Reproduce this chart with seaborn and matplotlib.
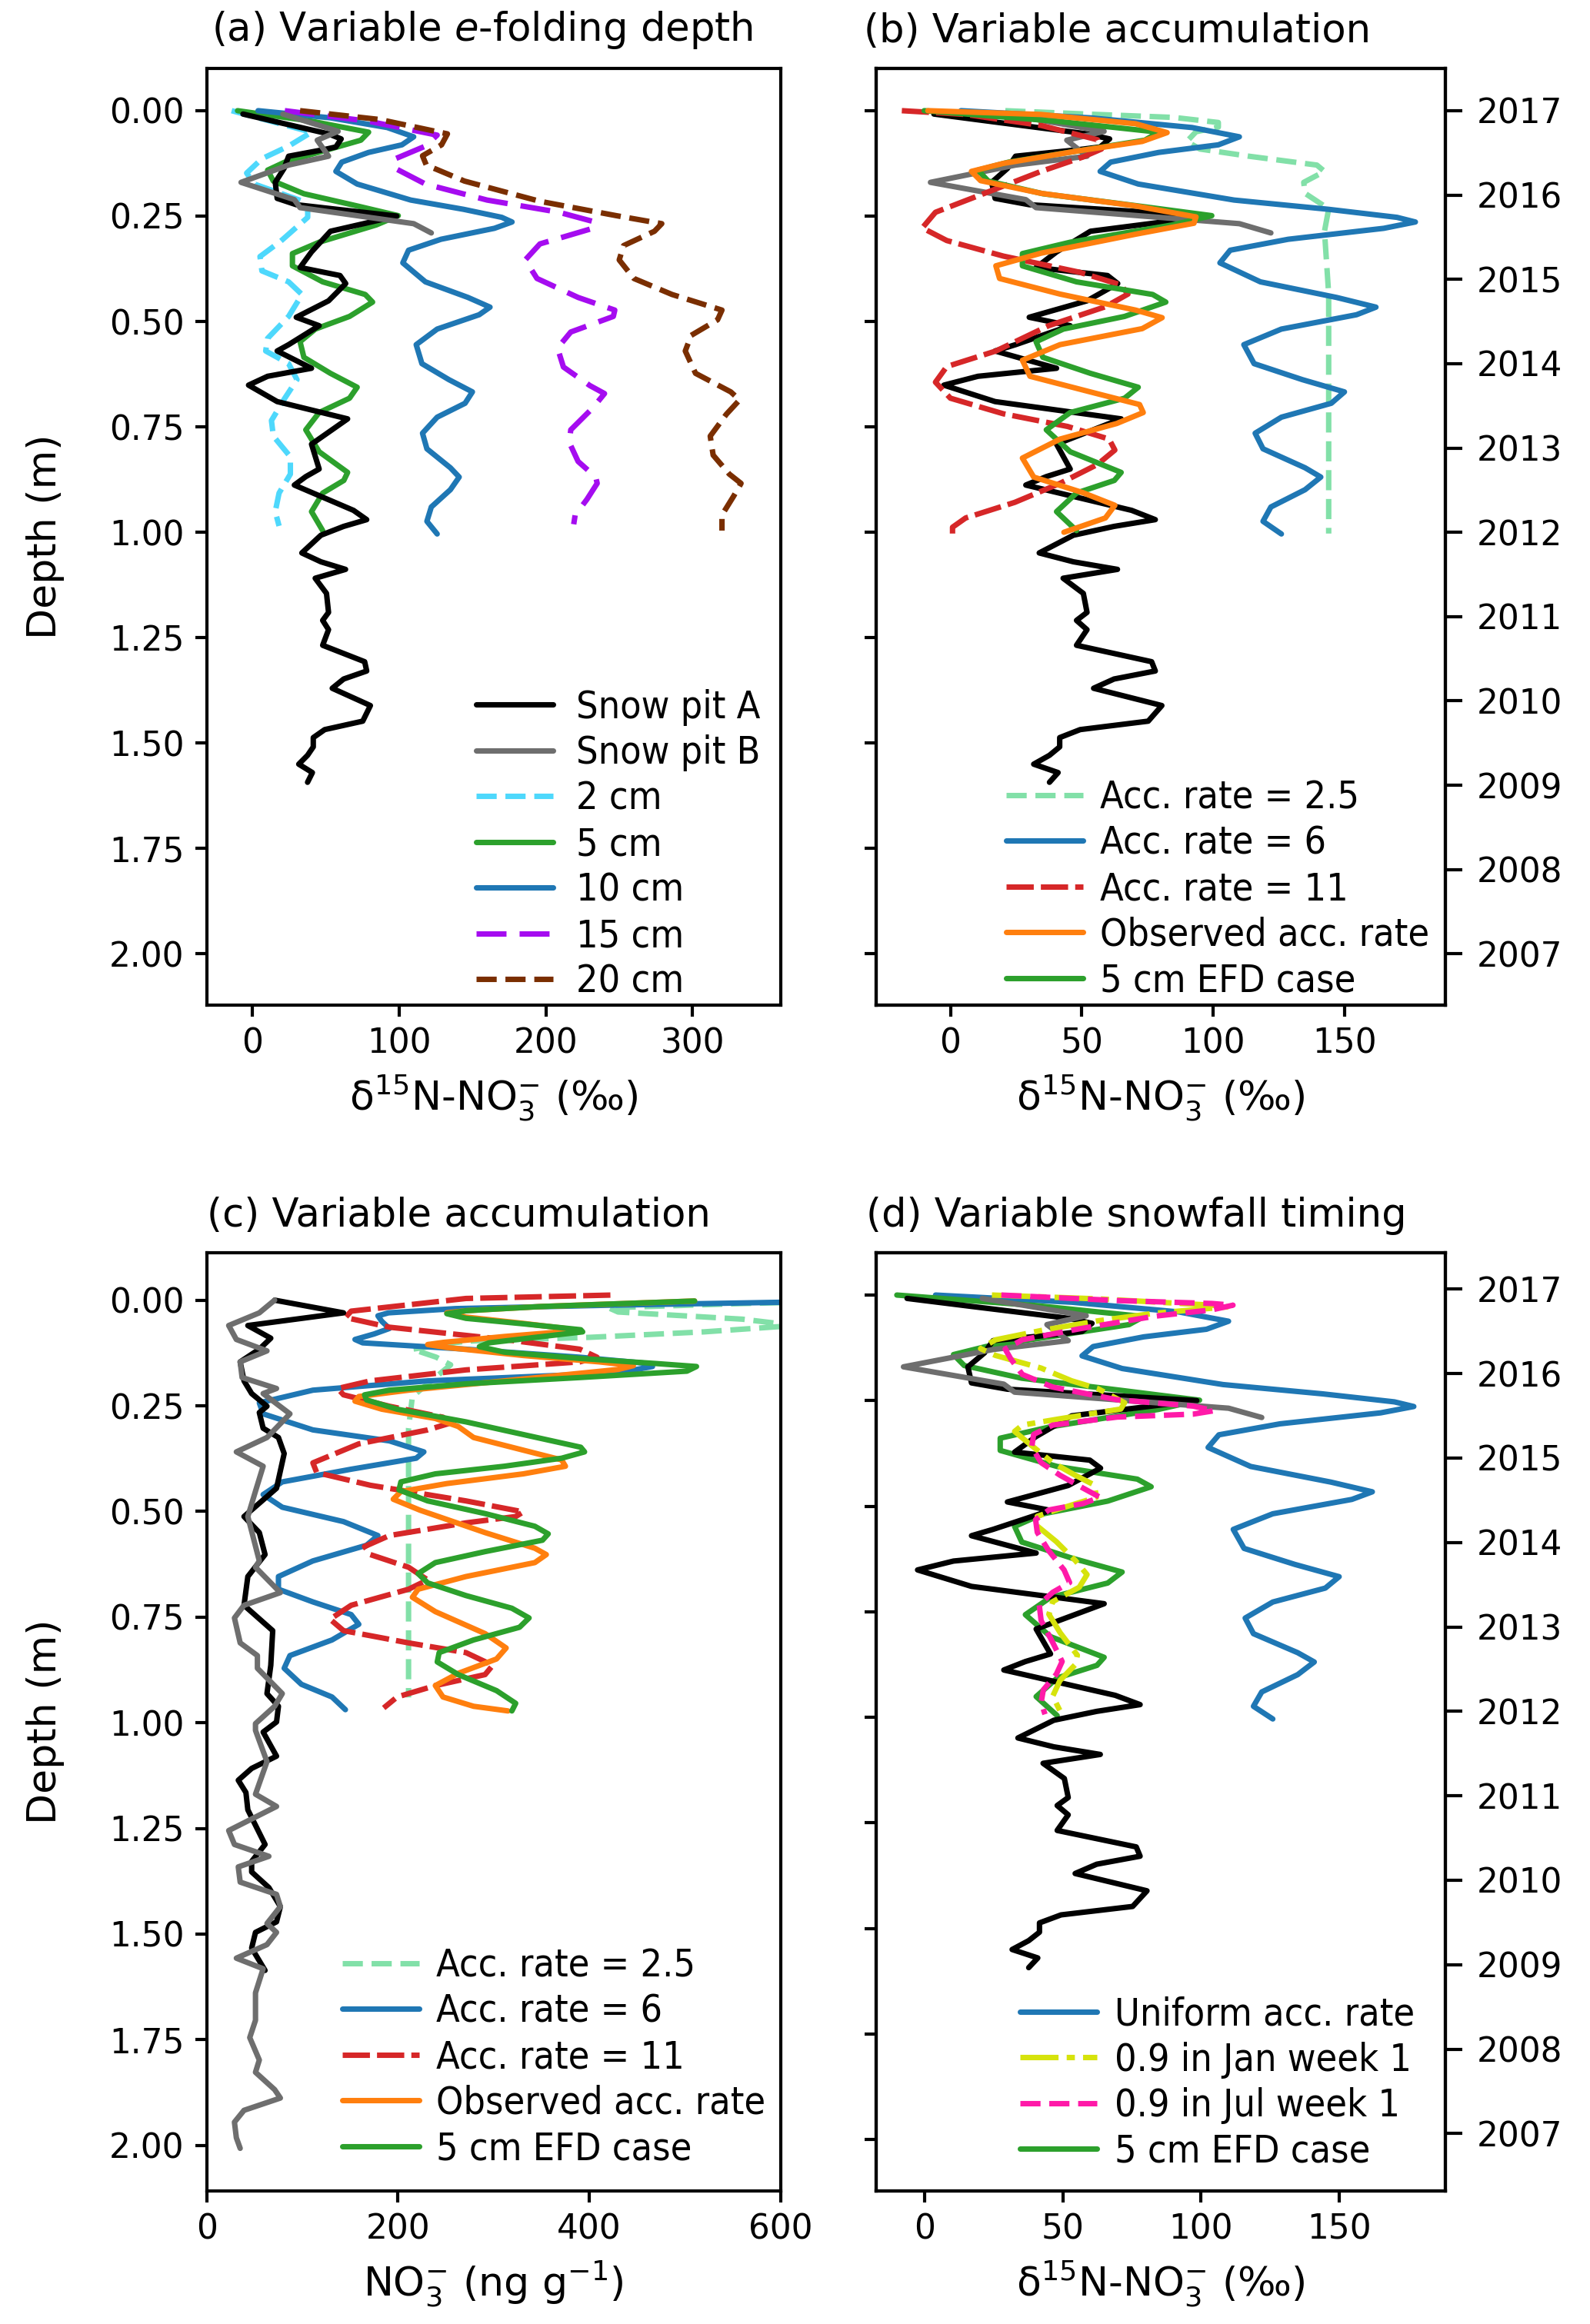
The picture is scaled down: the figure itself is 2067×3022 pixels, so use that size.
import matplotlib
matplotlib.use('Agg')
import matplotlib.pyplot as plt
import seaborn as sns

# Values as (depth m, value) pairs
# --- snow pit observations, d15N (permil)
PIT_A = [(0.008, -6.3), (0.028, 18.3), (0.055, 52), (0.067, 60.6), (0.086, 57), (0.092, 49.4),
         (0.108, 24.8), (0.137, 21.7), (0.170, 15.7), (0.208, 17), (0.223, 30), (0.250, 98.5),
         (0.286, 53.3), (0.335, 40.4), (0.372, 32.6), (0.391, 59.8), (0.410, 63.7), (0.451, 52),
         (0.490, 30), (0.510, 45.6), (0.555, 24.8), (0.570, 17), (0.611, 40.4), (0.630, 10.5),
         (0.651, -2.5), (0.690, 17), (0.731, 65), (0.791, 40.4), (0.850, 45.6), (0.868, 36.5),
         (0.888, 28.7), (0.948, 69), (0.970, 78), (0.986, 62.3), (1.007, 46.8), (1.049, 33.8),
         (1.070, 46.8), (1.088, 63.6), (1.109, 42.9), (1.145, 50.6), (1.190, 52), (1.209, 48),
         (1.231, 52), (1.268, 48), (1.307, 76.6), (1.329, 78), (1.348, 62.3), (1.370, 54.5),
         (1.407, 78), (1.411, 80.5), (1.448, 75.3), (1.468, 49.4), (1.487, 41.6), (1.509, 41.6),
         (1.529, 37.7), (1.550, 31.7), (1.570, 41), (1.593, 37.7)]
PIT_B = [(0.008, 20.9), (0.049, 58.5), (0.070, 44.3), (0.108, 52), (0.129, 24.8), (0.170, -7.6),
         (0.211, 28.7), (0.230, 32.6), (0.268, 110), (0.290, 122)]

# --- model runs, d15N (permil)
EFD_2CM = [(0.0, -14), (0.051, 40.4), (0.084, 24.8), (0.114, 6.6), (0.148, -3.8), (0.174, 1.4),
           (0.219, 37.8), (0.253, 37.8), (0.309, 19.6), (0.346, 5.3), (0.380, 6.6), (0.406, 24.8),
           (0.436, 33.9), (0.488, 24.8), (0.540, 10.5), (0.570, 9.2), (0.600, 24.8), (0.638, 30.5),
           (0.682, 22.2), (0.735, 13.1), (0.772, 14.4), (0.821, 26), (0.862, 26), (0.907, 18.3),
           (0.951, 15.7), (0.985, 18.3)]
EFD_5CM = [(0.0, -10), (0.025, 40.4), (0.051, 79.3), (0.070, 74), (0.096, 48), (0.122, 22.2),
           (0.141, 10.5), (0.167, 14.4), (0.197, 35.2), (0.226, 71.5), (0.249, 99.5), (0.271, 84.5),
           (0.312, 45.6), (0.339, 27.4), (0.368, 27.4), (0.406, 48), (0.436, 77), (0.454, 82),
           (0.488, 66.3), (0.518, 43), (0.548, 32.6), (0.585, 35.2), (0.623, 53.3), (0.656, 71.5),
           (0.682, 66.3), (0.716, 45.6), (0.757, 36.5), (0.809, 45.6), (0.858, 65), (0.877, 62.4),
           (0.907, 48), (0.951, 40.4), (0.996, 48)]
EFD_10CM = [(0.0, 4), (0.017, 53.3), (0.040, 92), (0.062, 110), (0.081, 102), (0.099, 79.3),
            (0.122, 61), (0.144, 57), (0.174, 71.5), (0.212, 108), (0.234, 144), (0.253, 170),
            (0.264, 177), (0.279, 165), (0.305, 128.6), (0.331, 106.5), (0.361, 102.6), (0.406, 118),
            (0.443, 147), (0.466, 162), (0.484, 154.6), (0.518, 126), (0.555, 111.7), (0.600, 115.6),
            (0.638, 134), (0.667, 150), (0.694, 145), (0.727, 126), (0.765, 116), (0.802, 119),
            (0.847, 135), (0.869, 141), (0.899, 135), (0.940, 122), (0.974, 119), (1.004, 126)]
EFD_15CM = [(0.0, 22.2), (0.025, 79.3), (0.058, 126), (0.084, 118), (0.114, 97.5), (0.137, 97.5),
            (0.174, 118), (0.212, 160), (0.241, 209), (0.264, 233.5), (0.279, 232), (0.316, 196),
            (0.354, 186), (0.398, 194), (0.443, 222), (0.473, 247), (0.488, 246), (0.525, 217),
            (0.563, 208), (0.608, 212), (0.652, 230), (0.671, 240), (0.705, 232), (0.757, 217),
            (0.787, 216), (0.832, 222), (0.869, 234), (0.884, 235), (0.922, 228), (0.959, 220),
            (0.981, 219)]
EFD_20CM = [(0.0, 32.6), (0.021, 87), (0.055, 133), (0.081, 129), (0.107, 116), (0.129, 118.6),
            (0.167, 144.6), (0.215, 196), (0.249, 248), (0.268, 279), (0.286, 274), (0.320, 253),
            (0.354, 250), (0.398, 260), (0.436, 286), (0.473, 320), (0.496, 317), (0.533, 299),
            (0.570, 295), (0.623, 302), (0.667, 326), (0.686, 332), (0.720, 323), (0.772, 312),
            (0.817, 314), (0.862, 325), (0.884, 333), (0.914, 328), (0.959, 320), (0.996, 320)]
ACC_2P5 = [(0.0, 20.9), (0.009, 56), (0.016, 85), (0.028, 102), (0.039, 102), (0.050, 93.5),
           (0.073, 90), (0.091, 95), (0.108, 113.6), (0.129, 139.5), (0.144, 142.4), (0.170, 134.5),
           (0.196, 135), (0.233, 144), (0.286, 142.4), (0.435, 144), (0.659, 144), (1.003, 144)]
ACC_11 = [(0.0, -18.5), (0.009, 5.8), (0.035, 34.5), (0.069, 56), (0.091, 57.5), (0.110, 50.4),
          (0.144, 34.5), (0.196, 13), (0.241, -5.7), (0.278, -10.7), (0.308, -1.4), (0.345, 20.2),
          (0.383, 49), (0.413, 64.8), (0.435, 67.6), (0.465, 59), (0.510, 37.4), (0.570, 17.3),
          (0.607, -1.4), (0.644, -5.7), (0.682, 0), (0.719, 20.2), (0.749, 44.6), (0.779, 60.4),
          (0.805, 62.6), (0.839, 56), (0.884, 41.7), (0.929, 24.5), (0.966, 5.8), (0.988, 0.8),
          (1.003, 0.8)]
ACC_OBS = [(0.0, -8.6), (0.009, 34.5), (0.031, 70.5), (0.052, 82.5), (0.073, 73), (0.095, 49),
           (0.125, 20.2), (0.144, 8), (0.166, 11.5), (0.196, 34.5), (0.226, 70.5), (0.252, 93.5),
           (0.267, 92.7), (0.293, 70.5), (0.338, 34.5), (0.368, 17.3), (0.398, 18.7), (0.435, 41.7),
           (0.473, 70.5), (0.491, 80.6), (0.517, 73), (0.555, 41.7), (0.592, 27.4), (0.630, 30.3),
           (0.667, 53.2), (0.697, 72), (0.716, 73.4), (0.742, 63.3), (0.779, 41.7), (0.824, 27.4),
           (0.869, 31.7), (0.906, 50.4), (0.936, 62.6), (0.966, 59), (1.0, 43.2)]
SNOW_JAN = [(0.0, 24.4), (0.009, 62.8), (0.024, 104), (0.028, 109.5), (0.043, 83.4), (0.061, 62.8),
            (0.084, 42.2), (0.106, 25.7), (0.127, 20.3), (0.143, 25.7), (0.173, 42.2), (0.203, 53.2),
            (0.222, 62.8), (0.255, 72.4), (0.270, 71), (0.293, 49), (0.308, 35.4), (0.323, 32.6),
            (0.353, 38.1), (0.397, 46.4), (0.427, 54.6), (0.450, 61.5), (0.479, 62.2), (0.506, 49),
            (0.524, 40.8), (0.547, 40.8), (0.584, 47.7), (0.629, 54.6), (0.662, 58.8), (0.692, 56),
            (0.726, 46.4), (0.756, 45), (0.800, 49.1), (0.853, 55.3), (0.875, 54.6), (0.913, 49),
            (0.950, 46.4), (0.995, 49.8)]
SNOW_JUL = [(0.0, 27.8), (0.013, 69.7), (0.020, 104), (0.024, 111.6), (0.035, 104), (0.050, 83.4),
            (0.080, 56), (0.106, 35.4), (0.128, 29.2), (0.151, 31.2), (0.188, 35.4), (0.218, 46.4),
            (0.248, 69.7), (0.263, 97.2), (0.274, 104.7), (0.282, 97.2), (0.289, 69.7), (0.308, 46.4),
            (0.330, 39.5), (0.360, 38.8), (0.397, 42.2), (0.427, 49.1), (0.457, 57.3), (0.479, 63.5),
            (0.494, 57.3), (0.509, 45), (0.532, 40.2), (0.562, 40.8), (0.606, 45), (0.651, 50.5),
            (0.681, 52.5), (0.704, 46.4), (0.733, 41.5), (0.771, 42.2), (0.823, 46.4), (0.868, 49.8),
            (0.898, 47.7), (0.935, 43), (0.965, 42.2), (0.993, 43.6)]

# --- nitrate concentration (ng g-1), panel c
PIT_A_NO3 = [(0.0, 71), (0.030, 143), (0.060, 43), (0.090, 67), (0.116, 55), (0.146, 35), (0.191, 39),
             (0.221, 47), (0.251, 63), (0.266, 55), (0.303, 59), (0.325, 75), (0.363, 81), (0.445, 73),
             (0.512, 39), (0.550, 55), (0.602, 61), (0.654, 43), (0.722, 39), (0.782, 69), (0.864, 67),
             (0.931, 63), (0.961, 75), (0.998, 73), (1.022, 59), (1.079, 73), (1.108, 47), (1.136, 33),
             (1.165, 41), (1.206, 43), (1.288, 61), (1.328, 47), (1.353, 47), (1.390, 65), (1.435, 77),
             (1.471, 73), (1.496, 51), (1.533, 47), (1.586, 61)]
PIT_B_NO3 = [(0.0, 71), (0.030, 55), (0.060, 23), (0.093, 31), (0.120, 63), (0.146, 35), (0.183, 37),
             (0.209, 73), (0.221, 59), (0.269, 87), (0.325, 63), (0.359, 31), (0.393, 59), (0.452, 51),
             (0.512, 43), (0.617, 55), (0.632, 51), (0.692, 77), (0.722, 39), (0.752, 29), (0.811, 35),
             (0.841, 53), (0.871, 53), (0.931, 79), (0.961, 71), (1.002, 51), (1.018, 51), (1.092, 63),
             (1.169, 51), (1.198, 73), (1.255, 23), (1.288, 29), (1.316, 65), (1.341, 33), (1.377, 35),
             (1.406, 73), (1.435, 77), (1.475, 63), (1.496, 73), (1.525, 63), (1.557, 31), (1.582, 59),
             (1.639, 51), (1.704, 51), (1.745, 45), (1.798, 55), (1.827, 51), (1.868, 71), (1.888, 77),
             (1.917, 39), (1.945, 29), (1.982, 31), (2.007, 35)]
ACC_2P5_NO3 = [(0.0, 720), (0.008, 560), (0.018, 420), (0.028, 430), (0.045, 560), (0.060, 615),
               (0.075, 520), (0.088, 400), (0.097, 271), (0.116, 215), (0.135, 240), (0.153, 255),
               (0.183, 239), (0.228, 215), (0.303, 211), (0.940, 211)]
ACC_6_NO3 = [(0.0, 700), (0.005, 600), (0.012, 420), (0.020, 260), (0.030, 190), (0.037, 179),
             (0.050, 183), (0.067, 191), (0.080, 175), (0.093, 155), (0.101, 163), (0.116, 271),
             (0.135, 390), (0.150, 462), (0.157, 466), (0.172, 430), (0.191, 231), (0.213, 111),
             (0.243, 55), (0.269, 59), (0.307, 111), (0.333, 191), (0.359, 227), (0.374, 219),
             (0.400, 151), (0.430, 79), (0.460, 59), (0.490, 79), (0.524, 143), (0.557, 179),
             (0.580, 167), (0.617, 111), (0.654, 75), (0.684, 75), (0.714, 111), (0.744, 151),
             (0.767, 159), (0.804, 131), (0.841, 87), (0.871, 81), (0.909, 99), (0.939, 131),
             (0.969, 145)]
ACC_11_NO3 = [(-0.012, 422), (-0.004, 271), (0.026, 151), (0.041, 145), (0.064, 191), (0.093, 311),
              (0.116, 390), (0.135, 408), (0.146, 390), (0.165, 271), (0.191, 171), (0.209, 137),
              (0.224, 143), (0.251, 191), (0.277, 247), (0.292, 253), (0.307, 231), (0.340, 159),
              (0.385, 111), (0.408, 115), (0.438, 171), (0.475, 271), (0.501, 331), (0.512, 323),
              (0.527, 271), (0.557, 191), (0.583, 165), (0.602, 171), (0.632, 211), (0.662, 231),
              (0.684, 211), (0.722, 151), (0.755, 129), (0.782, 143), (0.811, 211), (0.834, 271),
              (0.864, 299), (0.886, 291), (0.912, 239), (0.939, 199), (0.965, 185)]
ACC_OBS_NO3 = [(0.002, 510), (0.015, 350), (0.025, 271), (0.030, 251), (0.040, 271), (0.055, 331),
               (0.067, 375), (0.075, 371), (0.086, 311), (0.100, 247), (0.105, 231), (0.112, 251),
               (0.131, 331), (0.146, 410), (0.155, 446), (0.164, 430), (0.191, 311), (0.213, 211),
               (0.228, 159), (0.239, 155), (0.258, 183), (0.280, 239), (0.299, 263), (0.325, 279),
               (0.355, 331), (0.378, 371), (0.393, 375), (0.411, 331), (0.434, 251), (0.453, 203),
               (0.471, 195), (0.497, 223), (0.550, 291), (0.587, 343), (0.602, 355), (0.621, 343),
               (0.654, 271), (0.684, 221), (0.703, 215), (0.737, 239), (0.789, 291), (0.823, 313),
               (0.849, 303), (0.883, 263), (0.912, 239), (0.939, 247), (0.961, 279), (0.972, 315)]
EFD_5CM_NO3 = [(0.002, 510), (0.015, 350), (0.025, 271), (0.032, 251), (0.043, 271), (0.056, 331),
               (0.070, 391), (0.075, 393), (0.086, 351), (0.101, 295), (0.110, 285), (0.123, 311),
               (0.138, 391), (0.150, 470), (0.157, 512), (0.168, 502), (0.183, 391), (0.198, 271),
               (0.213, 191), (0.224, 165), (0.236, 167), (0.258, 199), (0.288, 271), (0.318, 331),
               (0.348, 391), (0.359, 395), (0.374, 371), (0.393, 311), (0.411, 239), (0.430, 203),
               (0.449, 201), (0.475, 231), (0.505, 291), (0.535, 343), (0.553, 357), (0.568, 351),
               (0.595, 291), (0.621, 239), (0.647, 221), (0.669, 231), (0.699, 271), (0.729, 319),
               (0.752, 337), (0.774, 327), (0.804, 279), (0.834, 243), (0.856, 241), (0.886, 263),
               (0.924, 303), (0.954, 323), (0.972, 319)]

YEARS = [2017, 2016, 2015, 2014, 2013, 2012, 2011, 2010, 2009, 2008, 2007]
YEAR_DEPTHS = [0.0, 0.2, 0.4, 0.6, 0.8, 1.0, 1.2, 1.4, 1.6, 1.8, 2.0]
DEPTH_TICKS = [0.0, 0.25, 0.5, 0.75, 1.0, 1.25, 1.5, 1.75, 2.0]

sns.set_style('ticks')
plt.rcParams['font.family'] = ['DejaVu Sans']
plt.rcParams['mathtext.default'] = 'regular'
plt.rcParams['axes.edgecolor'] = 'black'
plt.rcParams['text.color'] = 'black'
plt.rcParams['axes.labelcolor'] = 'black'
plt.rcParams['xtick.color'] = 'black'
plt.rcParams['ytick.color'] = 'black'

LW = 1.7
D15N_LABEL = 'δ$^{15}$N-NO$_3^{-}$ (‰)'
LEGEND_FONT = {'family': ['DejaVu Sans'], 'stretch': 'condensed', 'size': 12}


def profile(ax, pts, color, label, ls='-', z=2):
    """Draw one depth profile (value on x, depth on y) in data order."""
    depth = [p[0] for p in pts]
    value = [p[1] for p in pts]
    sns.lineplot(x=value, y=depth, sort=False, estimator=None, ax=ax, color=color,
                 linestyle=ls, linewidth=LW, label=label, zorder=z)


def finish(ax, title, title_x, xlabel, xlim, ylim, order, anchor, left='labels', textpad=0.45):
    ax.set_xlim(*xlim)
    ax.set_ylim(*ylim)
    ax.set_yticks(DEPTH_TICKS)
    ax.set_xlabel(xlabel, fontsize=12.5)
    if left == 'labels':
        ax.set_yticklabels(['%.2f' % d for d in DEPTH_TICKS])
        ax.set_ylabel('Depth (m)', fontsize=12.5, labelpad=14)
    else:
        ax.set_yticklabels([])
        ax.set_ylabel('')
    ax.tick_params(direction='out', length=3.5, width=1, labelsize=10.5)
    if left == 'none':
        ax.tick_params(axis='y', left=False)
    for s in ax.spines.values():
        s.set_linewidth(1.0)
    ax.annotate(title, xy=(title_x, 1.0), xycoords='axes fraction', xytext=(0, 5.5),
                textcoords='offset points', ha='left', va='bottom', fontsize=12.3)
    handles, labels = ax.get_legend_handles_labels()
    lookup = dict(zip(labels, handles))
    ax.legend([lookup[k] for k in order], order, loc='lower right', bbox_to_anchor=anchor,
              frameon=False, prop=LEGEND_FONT, labelspacing=0.23, handlelength=2.0,
              handletextpad=textpad, borderaxespad=0.0, borderpad=0.0)


def year_axis(ax, ylim, shift=0.0):
    tw = ax.twinx()
    tw.set_ylim(ylim[0] + shift, ylim[1] + shift)
    tw.set_yticks(YEAR_DEPTHS)
    tw.set_yticklabels([str(y) for y in YEARS])
    tw.tick_params(direction='out', length=5.3, width=1, labelsize=10.5, pad=4.5)
    for s in tw.spines.values():
        s.set_linewidth(1.0)


fig = plt.figure(figsize=(2067 / 300, 3022 / 300), dpi=300)
ax_a = fig.add_axes([0.130, 0.5676, 0.361, 0.4031])
ax_b = fig.add_axes([0.551, 0.5676, 0.358, 0.4031])
ax_c = fig.add_axes([0.130, 0.0574, 0.361, 0.4037])
ax_d = fig.add_axes([0.551, 0.0574, 0.358, 0.4037])

YLIM = (2.121, -0.101)
YLIM_C = (2.107, -0.113)

# (a) variable e-folding depth
profile(ax_a, EFD_2CM, '#4ed8fc', '2 cm', '--')
profile(ax_a, EFD_5CM, '#2ca02c', '5 cm')
profile(ax_a, EFD_10CM, '#1f77b4', '10 cm')
profile(ax_a, EFD_15CM, '#a50cf0', '15 cm', (0, (5.5, 2.4)))
profile(ax_a, EFD_20CM, '#7a2e00', '20 cm', '--')
profile(ax_a, PIT_A, 'black', 'Snow pit A', z=3)
profile(ax_a, PIT_B, '#6e6e6e', 'Snow pit B', z=3.1)
finish(ax_a, '(a) Variable $\\it{e}$-folding depth', 0.008, D15N_LABEL, (-31, 360), YLIM,
       ['Snow pit A', 'Snow pit B', '2 cm', '5 cm', '10 cm', '15 cm', '20 cm'], (0.964, 0.005),
       textpad=0.6)
ax_a.set_xticks([0, 100, 200, 300])

# (b) variable accumulation, d15N
profile(ax_b, PIT_A, 'black', 'Snow pit A', z=2)
profile(ax_b, PIT_B, '#6e6e6e', 'Snow pit B', z=2.1)
profile(ax_b, ACC_2P5, '#82e0a8', 'Acc. rate = 2.5', '--', z=2.5)
profile(ax_b, EFD_10CM, '#1f77b4', 'Acc. rate = 6', z=2.5)
profile(ax_b, ACC_11, '#d62728', 'Acc. rate = 11', (0, (5, 1.3)), z=2.5)
profile(ax_b, EFD_5CM, '#2ca02c', '5 cm EFD case', z=2.6)
profile(ax_b, ACC_OBS, '#ff7f0e', 'Observed acc. rate', z=2.7)
finish(ax_b, '(b) Variable accumulation', -0.021, D15N_LABEL, (-28.3, 188.4), YLIM,
       ['Acc. rate = 2.5', 'Acc. rate = 6', 'Acc. rate = 11', 'Observed acc. rate', '5 cm EFD case'],
       (0.972, 0.006), left='none')
ax_b.set_xticks([0, 50, 100, 150])
year_axis(ax_b, YLIM)

# (c) variable accumulation, concentration
profile(ax_c, ACC_2P5_NO3, '#82e0a8', 'Acc. rate = 2.5', '--')
profile(ax_c, ACC_6_NO3, '#1f77b4', 'Acc. rate = 6')
profile(ax_c, ACC_11_NO3, '#d62728', 'Acc. rate = 11', (0, (5, 1.3)))
profile(ax_c, ACC_OBS_NO3, '#ff7f0e', 'Observed acc. rate')
profile(ax_c, EFD_5CM_NO3, '#2ca02c', '5 cm EFD case')
profile(ax_c, PIT_A_NO3, 'black', 'Snow pit A', z=3)
profile(ax_c, PIT_B_NO3, '#6e6e6e', 'Snow pit B', z=3.1)
finish(ax_c, '(c) Variable accumulation', 0.0, 'NO$_3^{-}$ (ng g$^{-1}$)', (0, 600), YLIM_C,
       ['Acc. rate = 2.5', 'Acc. rate = 6', 'Acc. rate = 11', 'Observed acc. rate', '5 cm EFD case'],
       (0.974, 0.025))
ax_c.set_xticks([0, 200, 400, 600])

# (d) variable snowfall timing
profile(ax_d, EFD_10CM, '#1f77b4', 'Uniform acc. rate')
profile(ax_d, EFD_5CM, '#2ca02c', '5 cm EFD case')
profile(ax_d, PIT_A, 'black', 'Snow pit A', z=3)
profile(ax_d, PIT_B, '#6e6e6e', 'Snow pit B', z=3.1)
profile(ax_d, SNOW_JAN, '#d6e30c', '0.9 in Jan week 1', (0, (7, 1.5, 1.5, 1.5)), z=3.5)
profile(ax_d, SNOW_JUL, '#ff1aa8', '0.9 in Jul week 1', '--', z=3.6)
finish(ax_d, '(d) Variable snowfall timing', -0.018, D15N_LABEL, (-17.5, 188.4), YLIM,
       ['Uniform acc. rate', '0.9 in Jan week 1', '0.9 in Jul week 1', '5 cm EFD case'],
       (0.946, 0.022), left='ticks')
ax_d.set_xticks([0, 50, 100, 150])
year_axis(ax_d, YLIM, shift=0.014)

fig.savefig('out.png', dpi=300)
